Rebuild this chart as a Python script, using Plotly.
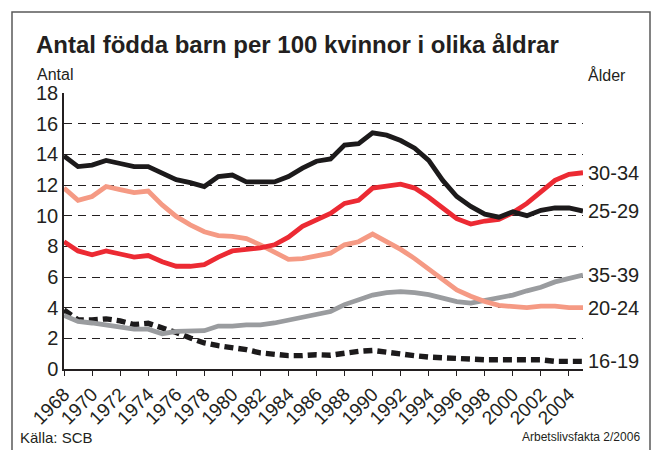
import plotly.graph_objects as go

years = list(range(1968, 2006))

age_25_29 = [13.9, 13.2, 13.3, 13.6, 13.4, 13.2, 13.2, 12.75, 12.35, 12.15, 11.9, 12.55,
             12.65, 12.2, 12.2, 12.2, 12.55, 13.1, 13.55, 13.7, 14.6, 14.7, 15.4, 15.25,
             14.9, 14.4, 13.6, 12.3, 11.25, 10.6, 10.1, 9.9, 10.25, 10.0, 10.35, 10.5, 10.5, 10.3]

age_30_34 = [8.3, 7.7, 7.45, 7.7, 7.5, 7.3, 7.4, 7.0, 6.7, 6.7, 6.8, 7.3,
             7.7, 7.8, 7.9, 8.1, 8.6, 9.3, 9.7, 10.15, 10.8, 11.0, 11.8, 11.9,
             12.05, 11.8, 11.2, 10.5, 9.8, 9.45, 9.65, 9.75, 10.2, 10.8, 11.6, 12.3, 12.7, 12.8]

age_20_24 = [11.8, 11.0, 11.25, 11.9, 11.7, 11.5, 11.6, 10.7, 9.95, 9.4, 8.95, 8.7,
             8.65, 8.5, 8.1, 7.65, 7.15, 7.2, 7.4, 7.55, 8.1, 8.3, 8.8, 8.3,
             7.8, 7.2, 6.5, 5.8, 5.15, 4.75, 4.4, 4.15, 4.05, 4.0, 4.1, 4.1, 4.0, 4.0]

age_35_39 = [3.5, 3.1, 3.0, 2.85, 2.7, 2.6, 2.6, 2.3, 2.45, 2.45, 2.5, 2.8,
             2.8, 2.88, 2.88, 3.0, 3.2, 3.42, 3.62, 3.75, 4.2, 4.55, 4.82, 4.98,
             5.05, 4.98, 4.85, 4.62, 4.4, 4.3, 4.45, 4.6, 4.82, 5.1, 5.33, 5.68, 5.87, 6.13]

age_16_19 = [3.85, 3.2, 3.2, 3.27, 3.14, 2.9, 2.98, 2.7, 2.38, 2.02, 1.7, 1.52,
             1.4, 1.26, 1.05, 0.93, 0.87, 0.87, 0.93, 0.9, 1.04, 1.15, 1.21, 1.08,
             1.0, 0.87, 0.78, 0.72, 0.65, 0.6, 0.6, 0.6, 0.6, 0.6, 0.6, 0.5, 0.5, 0.5]

series = [
    ("16-19", age_16_19, "#1c1a1b", "9px,5px"),
    ("35-39", age_35_39, "#9a9c9f", "solid"),
    ("20-24", age_20_24, "#f59a84", "solid"),
    ("30-34", age_30_34, "#ec2a33", "solid"),
    ("25-29", age_25_29, "#1c1a1b", "solid"),
]

title_text = "Antal födda barn per 100 kvinnor i olika åldrar"
y_ticks = list(range(0, 19, 2))
x_ticks = list(range(1968, 2005, 2))

FONT = "Liberation Sans, Arial, sans-serif"
TXT = "#231f20"

fig = go.Figure()
for name, vals, color, dash in series:
    fig.add_trace(go.Scatter(
        x=years, y=vals, mode="lines", name=name,
        line=dict(color=color, width=4.8 if dash == "solid" else 5.4, dash=dash),
        showlegend=False, hoverinfo="skip"))
    fig.add_annotation(x=years[-1], y=vals[-1], xref="x", yref="y", text=name,
                       showarrow=False, xanchor="left", yanchor="middle", xshift=3,
                       font=dict(size=20, color=TXT, family=FONT))

L, R, T, B = 64, 72, 93, 81
W = 655 - L - R
H = 450 - T - B

def px(p):
    return (p - L) / W

def py(p):
    return (450 - B - p) / H

fig.add_annotation(x=px(34), y=py(45), xref="paper", yref="paper", text="<b>" + title_text + "</b>",
                   showarrow=False, xanchor="left", yanchor="middle",
                   font=dict(size=24, color=TXT, family=FONT))
fig.add_annotation(x=px(35), y=py(75), xref="paper", yref="paper", text="Antal",
                   showarrow=False, xanchor="left", yanchor="middle",
                   font=dict(size=16, color=TXT, family=FONT))
fig.add_annotation(x=px(586), y=py(75), xref="paper", yref="paper", text="Ålder",
                   showarrow=False, xanchor="left", yanchor="middle",
                   font=dict(size=16, color=TXT, family=FONT))
fig.add_annotation(x=px(18), y=py(437), xref="paper", yref="paper", text="Källa: SCB",
                   showarrow=False, xanchor="left", yanchor="middle",
                   font=dict(size=15, color=TXT, family=FONT))
fig.add_annotation(x=px(642), y=py(437), xref="paper", yref="paper", text="Arbetslivsfakta 2/2006",
                   showarrow=False, xanchor="right", yanchor="middle",
                   font=dict(size=12, color=TXT, family=FONT))

fig.add_shape(type="rect", xref="paper", yref="paper",
              x0=px(12), x1=px(650), y0=py(455), y1=py(12),
              line=dict(color="#5a5a5a", width=1.5), fillcolor="rgba(0,0,0,0)", layer="below")

fig.update_layout(
    width=655, height=450,
    margin=dict(l=L, r=R, t=T, b=B, pad=0),
    paper_bgcolor="white", plot_bgcolor="white",
    font=dict(family=FONT, color=TXT),
    xaxis=dict(range=[1968, 2005], tickmode="array", tickvals=x_ticks,
               ticktext=[str(t) for t in x_ticks], tickangle=-45,
               showgrid=False, zeroline=False, showline=True, linecolor=TXT, linewidth=1.5,
               ticks="outside", ticklen=5, tickcolor=TXT, tickwidth=1,
               tickfont=dict(size=19, color=TXT, family=FONT)),
    yaxis=dict(range=[0, 18], tickmode="array", tickvals=y_ticks,
               showgrid=True, gridcolor="#231f20", gridwidth=1, griddash="8px,6px",
               zeroline=False, showline=True, linecolor=TXT, linewidth=1.5,
               ticks="", tickfont=dict(size=20, color=TXT, family=FONT)),
)

fig.write_html("out.html", config={"displayModeBar": False},
               post_script="document.body.style.margin='0';document.body.style.padding='0';")
